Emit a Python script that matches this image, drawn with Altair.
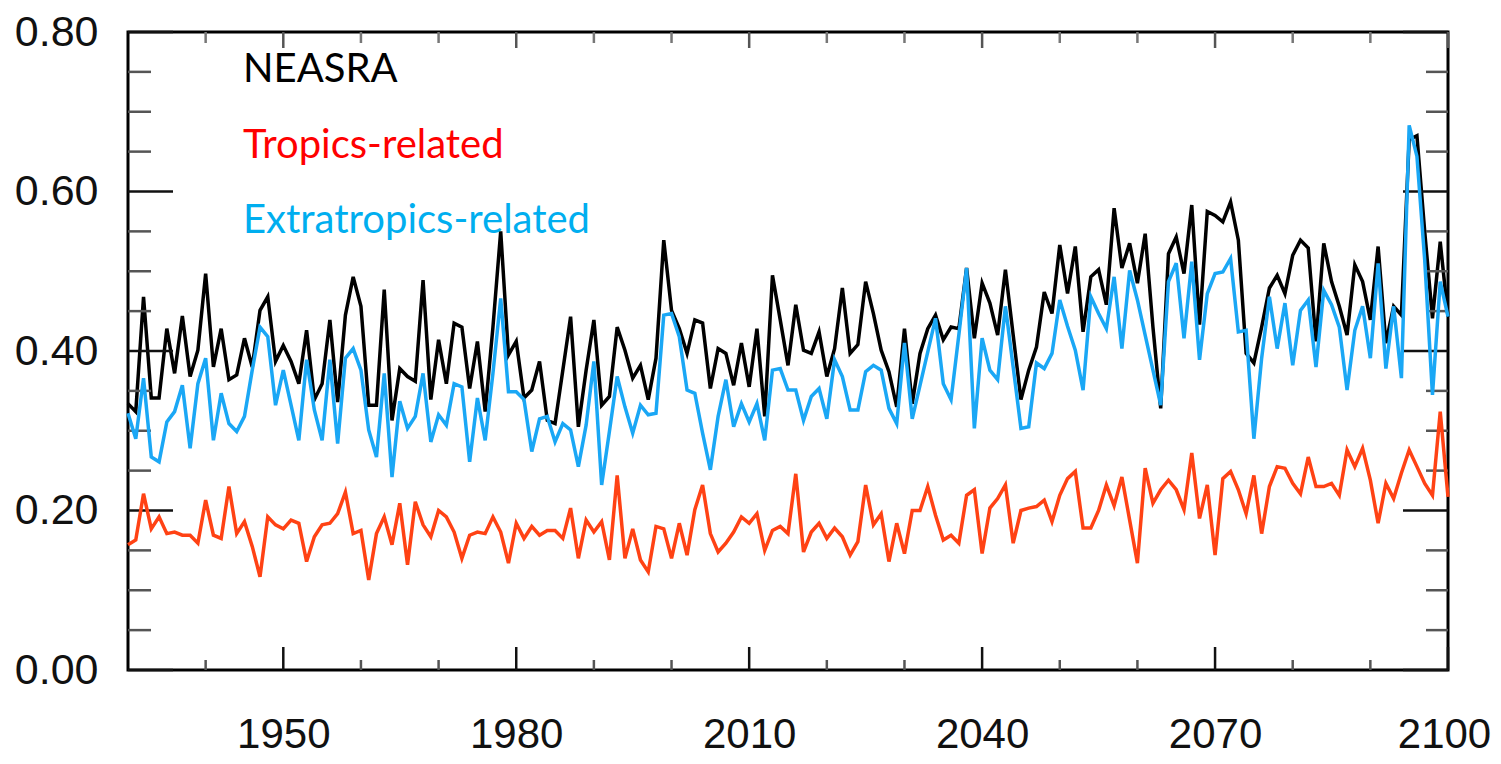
import altair as alt
import pandas as pd

# ---------------- data ----------------
years = list(range(1930, 2101))

neasra = [
    0.334, 0.324, 0.468, 0.341, 0.341, 0.428, 0.372, 0.444, 0.368, 0.401,
    0.497, 0.380, 0.428, 0.364, 0.370, 0.416, 0.380, 0.451, 0.468, 0.387,
    0.407, 0.387, 0.359, 0.426, 0.339, 0.359, 0.439, 0.336, 0.445, 0.493,
    0.456, 0.332, 0.332, 0.477, 0.313, 0.378, 0.368, 0.362, 0.489, 0.339,
    0.414, 0.359, 0.435, 0.430,
    0.353, 0.412, 0.324, 0.430, 0.550, 0.395, 0.412, 0.341, 0.351, 0.387,
    0.313, 0.309, 0.376, 0.443, 0.305, 0.376, 0.439, 0.332, 0.343, 0.430,
    0.401, 0.366, 0.382, 0.339, 0.391, 0.539, 0.451, 0.428, 0.397, 0.439,
    0.435, 0.353, 0.403, 0.397, 0.357, 0.410, 0.355, 0.428, 0.318, 0.495,
    0.439, 0.382,
    0.458, 0.401, 0.397, 0.424, 0.368, 0.403, 0.479, 0.397, 0.408, 0.487,
    0.447, 0.401, 0.374, 0.330, 0.428, 0.334, 0.397, 0.428, 0.445, 0.414,
    0.430, 0.428, 0.504, 0.416, 0.485, 0.460, 0.420, 0.502, 0.420, 0.339,
    0.376, 0.405, 0.474, 0.447, 0.533, 0.472, 0.531, 0.424, 0.493, 0.502,
    0.458,
    0.579, 0.504, 0.535, 0.485, 0.547, 0.430, 0.328, 0.522, 0.543, 0.497,
    0.583, 0.433, 0.575, 0.570, 0.562, 0.587, 0.539, 0.397, 0.385, 0.430,
    0.479, 0.495, 0.472, 0.520, 0.539, 0.529, 0.412, 0.535, 0.487, 0.456,
    0.420, 0.508, 0.487, 0.439, 0.531, 0.410, 0.456, 0.445, 0.665, 0.670,
    0.550, 0.441, 0.537, 0.443,
]

extratropics = [
    0.322, 0.290, 0.366, 0.267, 0.261, 0.311, 0.324, 0.357, 0.278, 0.359,
    0.391, 0.288, 0.347, 0.309, 0.299, 0.318, 0.376, 0.430, 0.418, 0.332,
    0.376, 0.332, 0.288, 0.389, 0.326, 0.288, 0.389, 0.284, 0.391, 0.403,
    0.376, 0.301, 0.267, 0.372, 0.242, 0.337, 0.303, 0.318, 0.372, 0.286,
    0.320, 0.307, 0.359, 0.355,
    0.261, 0.341, 0.288, 0.372, 0.466, 0.349, 0.349, 0.339, 0.274, 0.315,
    0.318, 0.286, 0.309, 0.301, 0.255, 0.307, 0.387, 0.232, 0.299, 0.368,
    0.330, 0.297, 0.332, 0.320, 0.322, 0.445, 0.447, 0.418, 0.351, 0.347,
    0.297, 0.251, 0.318, 0.364, 0.305, 0.334, 0.311, 0.334, 0.288, 0.376,
    0.378, 0.351,
    0.351, 0.313, 0.343, 0.353, 0.315, 0.389, 0.368, 0.326, 0.326, 0.374,
    0.382, 0.376, 0.328, 0.309, 0.410, 0.315, 0.357, 0.399, 0.441, 0.359,
    0.339, 0.420, 0.504, 0.303, 0.416, 0.376, 0.364, 0.456, 0.380, 0.303,
    0.305, 0.385, 0.378, 0.397, 0.464, 0.431, 0.401, 0.351, 0.468, 0.447,
    0.428,
    0.493, 0.403, 0.501, 0.464, 0.420, 0.376, 0.332, 0.487, 0.510, 0.416,
    0.512, 0.389, 0.472, 0.497, 0.499, 0.516, 0.424, 0.426, 0.290, 0.391,
    0.468, 0.403, 0.460, 0.382, 0.451, 0.464, 0.380, 0.476, 0.458, 0.430,
    0.351, 0.426, 0.456, 0.391, 0.510, 0.378, 0.456, 0.366, 0.683, 0.644,
    0.514, 0.345, 0.487, 0.443,
]

tropics = [
    0.157, 0.163, 0.221, 0.177, 0.192, 0.171, 0.173, 0.169, 0.169, 0.159,
    0.213, 0.169, 0.165, 0.230, 0.171, 0.186, 0.155, 0.117, 0.192, 0.182,
    0.177, 0.188, 0.184, 0.136, 0.167, 0.182, 0.184, 0.196, 0.223, 0.171,
    0.175, 0.113, 0.171, 0.192, 0.157, 0.209, 0.132, 0.211, 0.182, 0.167,
    0.200, 0.192, 0.173, 0.140,
    0.169, 0.173, 0.171, 0.192, 0.173, 0.134, 0.184, 0.165, 0.180, 0.169,
    0.175, 0.175, 0.165, 0.203, 0.140, 0.188, 0.173, 0.186, 0.138, 0.244,
    0.140, 0.177, 0.138, 0.123, 0.180, 0.177, 0.140, 0.184, 0.144, 0.201,
    0.232, 0.171, 0.148, 0.159, 0.173, 0.192, 0.184, 0.196, 0.150, 0.175,
    0.180, 0.171,
    0.246, 0.148, 0.173, 0.184, 0.165, 0.178, 0.167, 0.144, 0.161, 0.232,
    0.182, 0.196, 0.136, 0.184, 0.146, 0.200, 0.200, 0.230, 0.194, 0.163,
    0.169, 0.159, 0.219, 0.226, 0.146, 0.203, 0.215, 0.232, 0.159, 0.200,
    0.203, 0.205, 0.213, 0.186, 0.219, 0.240, 0.249, 0.178, 0.178, 0.200,
    0.232,
    0.206, 0.242, 0.188, 0.134, 0.253, 0.209, 0.226, 0.238, 0.226, 0.201,
    0.272, 0.190, 0.232, 0.144, 0.240, 0.249, 0.226, 0.196, 0.244, 0.171,
    0.230, 0.255, 0.253, 0.234, 0.221, 0.267, 0.230, 0.230, 0.234, 0.219,
    0.276, 0.255, 0.278, 0.238, 0.184, 0.234, 0.215, 0.247, 0.276, 0.255,
    0.234, 0.219, 0.324, 0.217,
]

y_major = [0.0, 0.2, 0.4, 0.6, 0.8]
y_minor = [0.05, 0.10, 0.15, 0.25, 0.30, 0.35, 0.45, 0.50, 0.55, 0.65, 0.70, 0.75]
x_major = [1950, 1980, 2010, 2040, 2070, 2100]
x_minor = [1940, 1960, 1970, 1990, 2000, 2020, 2030, 2050, 2060, 2080, 2090]

legend_labels = ["NEASRA", "Tropics-related", "Extratropics-related"]

# ---------------- chart ----------------
W, H = 1320, 638
FONT = "Liberation Sans"

xscale = alt.Scale(domain=[1930, 2100], nice=False, zero=False)
yscale = alt.Scale(domain=[0.0, 0.8], nice=False, zero=False)

df_b = pd.DataFrame({"year": years, "value": neasra})
df_r = pd.DataFrame({"year": years, "value": tropics})
df_c = pd.DataFrame({"year": years, "value": extratropics})

x_axis = alt.Axis(values=x_major, format="d", ticks=False, domain=False, grid=False,
                  labelFont=FONT, labelFontSize=42, labelColor="#111111",
                  labelBaseline="middle", labelPadding=64,
                  labelOffset={"condition": {"test": "datum.value == 2100", "value": -4},
                               "value": 0},
                  title=None, labelFlush=False, labelOverlap=False)
y_axis = alt.Axis(values=y_major, format=".2f", ticks=False, domain=False, grid=False,
                  labelFont=FONT, labelFontSize=43, labelColor="#111111",
                  labelPadding=30, title=None, labelFlush=False)

X = lambda: alt.X("year:Q", scale=xscale, axis=x_axis)
Y = lambda: alt.Y("value:Q", scale=yscale, axis=y_axis)

def line(df, color):
    return alt.Chart(df).mark_line(color=color, strokeWidth=3.5).encode(x=X(), y=Y())

line_b = line(df_b, "black")
line_r = line(df_r, "#FF4214")
line_c = line(df_c, "#1AA7F5")

# inward ticks drawn as rules
def ytick(vals, x0, x1, color):
    return alt.Chart(pd.DataFrame({"value": vals})).mark_rule(
        color=color, strokeWidth=2.5).encode(
        y=Y(), x=alt.value(x0), x2=alt.value(x1))

def xtick(vals, y0, y1, color):
    return alt.Chart(pd.DataFrame({"year": vals})).mark_rule(
        color=color, strokeWidth=2.5).encode(
        x=X(), y=alt.value(y0), y2=alt.value(y1))

ticks = [
    ytick(y_major, 0, 45, "#111111"),
    ytick(y_minor, 0, 23, "#555555"),
    ytick(y_major, W - 45, W, "#111111"),
    ytick(y_minor, W - 22, W, "#555555"),
    xtick(x_major, H, H - 23, "#111111"),
    xtick(x_minor, H, H - 10, "#555555"),
    xtick(x_major, 0, 16, "#555555"),
    xtick(x_minor, 0, 11, "#777777"),
]

def label(text, color, ypos):
    return alt.Chart(pd.DataFrame({"label": [text]})).mark_text(
        align="left", baseline="alphabetic", font="Lato", fontSize=40,
        color=color).encode(text="label:N", x=alt.value(115), y=alt.value(ypos))

labels = [
    label(legend_labels[0], "black", 50),
    label(legend_labels[1], "#FF0000", 126),
    label(legend_labels[2], "#00AEEF", 201),
]

chart = alt.layer(line_b, *ticks, line_r, line_c, *labels).properties(
    width=W, height=H,
    autosize="none",
    padding={"left": 120, "top": 24, "right": 45, "bottom": 86},
    background="white",
).configure_view(stroke="black", strokeWidth=3)

chart.save("out.html", embed_options={"renderer": "svg", "actions": False})
